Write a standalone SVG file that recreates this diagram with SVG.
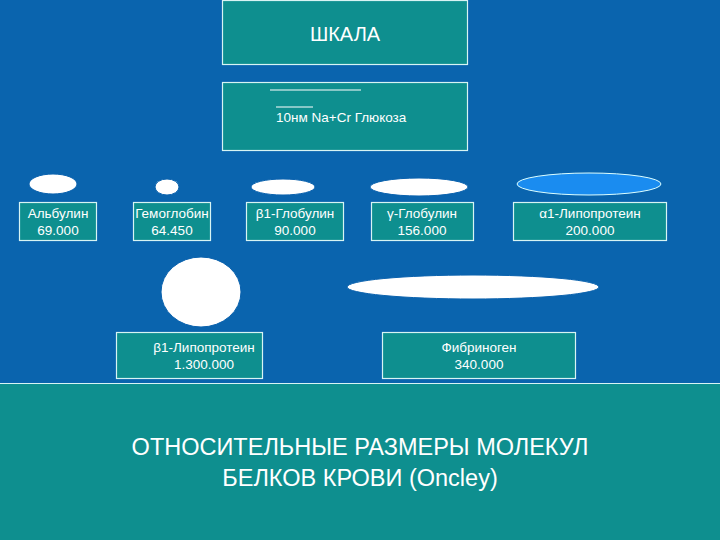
<svg xmlns="http://www.w3.org/2000/svg" width="720" height="540" viewBox="0 0 720 540">
<style>
.box{fill:#0e8f8f;stroke:#d8f4f4;stroke-width:1.2}
.t{font-family:"Liberation Sans",Arial,sans-serif;fill:#fff;font-size:13.5px;text-anchor:middle}
.m{fill:#fff;stroke:#0a62ae;stroke-width:1}
</style>
<rect width="720" height="540" fill="#0a64ae"/>
<g id="scale-title"><rect class="box" x="222.5" y="0.5" width="245" height="64"/><text class="t" x="345" y="41" style="font-size:20px">ШКАЛА</text></g>
<g id="scale"><rect class="box" x="222.5" y="82.5" width="245" height="68"/>
<line x1="270" y1="90" x2="361" y2="90" stroke="#fff" stroke-width="1"/>
<line x1="276" y1="107" x2="313" y2="107" stroke="#fff" stroke-width="1"/>
<text class="t" x="276" y="122" style="text-anchor:start">10нм Na+Cr  Глюкоза</text></g>
<g id="albumin"><ellipse class="m" cx="53" cy="184" rx="24" ry="10"/><rect class="box" x="19.5" y="202.5" width="77" height="38"/><text class="t" x="58" y="218">Альбулин</text><text class="t" x="58" y="235">69.000</text></g>
<g id="hemoglobin"><ellipse class="m" cx="167" cy="187" rx="12" ry="8"/><rect class="box" x="133.5" y="202.5" width="77" height="38"/><text class="t" x="172" y="218">Гемоглобин</text><text class="t" x="172" y="235">64.450</text></g>
<g id="b1-globulin"><ellipse class="m" cx="283" cy="187" rx="32" ry="8"/><rect class="box" x="246.5" y="202.5" width="97" height="38"/><text class="t" x="295" y="218">β1-Глобулин</text><text class="t" x="295" y="235">90.000</text></g>
<g id="g-globulin"><ellipse class="m" cx="419" cy="187" rx="49" ry="9"/><rect class="box" x="371.5" y="202.5" width="102" height="38"/><text class="t" x="422" y="218">γ-Глобулин</text><text class="t" x="422" y="235">156.000</text></g>
<g id="a1-lipoprotein"><ellipse cx="589" cy="184" rx="72" ry="11" fill="#1a8cf0" stroke="#dff" stroke-width="1"/><rect class="box" x="513.5" y="202.5" width="153" height="38"/><text class="t" x="590" y="218">α1-Липопротеин</text><text class="t" x="590" y="235">200.000</text></g>
<g id="b1-lipoprotein"><ellipse class="m" cx="201" cy="292" rx="40" ry="35"/><rect class="box" x="116.5" y="332.5" width="146" height="46"/><text class="t" x="204" y="352">β1-Липопротеин</text><text class="t" x="204" y="369">1.300.000</text></g>
<g id="fibrinogen"><ellipse class="m" cx="473" cy="287" rx="126" ry="12"/><rect class="box" x="382.5" y="332.5" width="193" height="46"/><text class="t" x="479" y="352">Фибриноген</text><text class="t" x="479" y="369">340.000</text></g>
<g id="connectors"/>
<g id="caption"><rect x="0" y="383" width="720" height="157" fill="#0e8f8f"/><line x1="0" y1="383.5" x2="720" y2="383.5" stroke="#d8f4f4" stroke-width="1"/>
<text class="t" x="360" y="455" style="font-size:23.5px">ОТНОСИТЕЛЬНЫЕ РАЗМЕРЫ МОЛЕКУЛ</text>
<text class="t" x="360" y="486" style="font-size:23.5px">БЕЛКОВ КРОВИ (Oncley)</text></g>
</svg>
